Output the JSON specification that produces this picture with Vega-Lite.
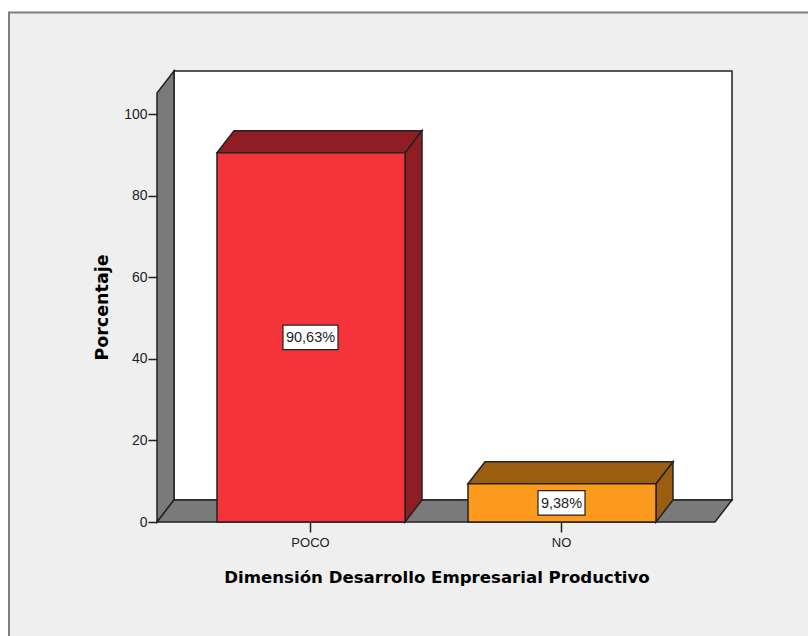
{
"$schema":"https://vega.github.io/schema/vega-lite/v6.json",
"width":575,"height":451,
"autosize":"none",
"padding":{"left":157,"top":71,"right":76,"bottom":114},
"background":"#ffffff",
"view":{"stroke":null},
"datasets":{"barras":[
{"categoria":"POCO","porcentaje":90.63,"orden":0},
{"categoria":"NO","porcentaje":9.38,"orden":1}
]},
"config":{"font":"Liberation Sans"},
"layer":[
{"data":{"values":[{"marco":"ventana"}]},
 "mark":{"type":"rect","fill":"#EFEFEF","stroke":"#808080","strokeWidth":2},
 "encoding":{
  "x":{"datum":-148,"type":"quantitative","scale":{"domain":[0,575],"nice":false,"zero":false},
   "axis":{"title":"Dimensión Desarrollo Empresarial Productivo","grid":false,"domain":false,"zindex":1,"values":[153,404],
    "labelExpr":"datum.value < 300 ? 'POCO' : 'NO'","labelFontSize":13,"labelColor":"#222222","labelPadding":4,"labelFlush":false,
    "tickSize":10,"tickColor":"#222222","tickWidth":1.5,
    "titleFontSize":16.6,"titleFont":"DejaVu Sans","titleFontWeight":"bold","titleColor":"#000000","titleX":279.5,"titleY":55,"titleBaseline":"middle","titleAlign":"center"}},
  "x2":{"datum":720},
  "y":{"datum":125,"type":"quantitative","scale":{"domain":[0,110.67],"nice":false,"zero":false},
   "axis":{"title":"Porcentaje","grid":false,"domain":false,"zindex":1,"values":[0,20,40,60,80,100],
    "labelFontSize":14,"labelColor":"#222222","labelPadding":1,
    "tickSize":9,"tickColor":"#222222","tickWidth":1.5,
    "titleFontSize":17.5,"titleFont":"DejaVu Sans","titleFontWeight":"bold","titleColor":"#000000","titleX":-55,"titleY":236,"titleBaseline":"middle","titleAlign":"center","titleAngle":-90}},
  "y2":{"datum":-40}
 }},
{"data":{"values":[{"marco":"fondo"}]},
 "mark":{"type":"rect","fill":"#ffffff","stroke":"#222222","strokeWidth":1.5},
 "encoding":{"x":{"datum":17,"type":"quantitative"},"x2":{"datum":575},"y":{"datum":5.4,"type":"quantitative"},"y2":{"datum":110.67}}},
{"data":{"values":[{"marco":"izquierda"}]},
 "transform":[
  {"calculate":"[0,17]","as":"vx"},{"calculate":"[0,5.4]","as":"vy2"},{"calculate":"[105.27,110.67]","as":"vy"},
  {"flatten":["vx","vy","vy2"]}],
 "mark":{"type":"area","orient":"vertical","fill":"#7A7A7A","stroke":"#222222","strokeWidth":1.5},
 "encoding":{"x":{"field":"vx","type":"quantitative"},"y":{"field":"vy","type":"quantitative"},"y2":{"field":"vy2"}}},
{"data":{"values":[{"marco":"piso"}]},
 "transform":[
  {"calculate":"[0,17,558,575]","as":"vx"},{"calculate":"[0,5.4,5.4,5.4]","as":"vy"},{"calculate":"[0,0,0,5.4]","as":"vy2"},
  {"flatten":["vx","vy","vy2"]}],
 "mark":{"type":"area","orient":"vertical","fill":"#7A7A7A","stroke":"#222222","strokeWidth":1.5},
 "encoding":{"x":{"field":"vx","type":"quantitative"},"y":{"field":"vy","type":"quantitative"},"y2":{"field":"vy2"}}},
{"data":{"name":"barras"},
 "transform":[
  {"calculate":"154+251*datum.orden","as":"c"},
  {"calculate":"[datum.c+94,datum.c+111]","as":"vx"},
  {"calculate":"[datum.porcentaje,datum.porcentaje+5.4]","as":"vy"},
  {"calculate":"[0,5.4]","as":"vy2"},
  {"flatten":["vx","vy","vy2"]},
  {"calculate":"datum.categoria+' oscuro'","as":"tono"}],
 "mark":{"type":"area","orient":"vertical","stroke":"#222222","strokeWidth":1.5},
 "encoding":{"x":{"field":"vx","type":"quantitative"},"y":{"field":"vy","type":"quantitative"},"y2":{"field":"vy2"},"detail":{"field":"categoria"},
  "color":{"field":"tono","type":"nominal","legend":null,"scale":{"domain":["POCO","NO","POCO oscuro","NO oscuro"],"range":["#F4333B","#FB9A1C","#8E1D24","#9B5E10"]}}}},
{"data":{"name":"barras"},
 "transform":[
  {"calculate":"154+251*datum.orden","as":"c"},
  {"calculate":"[datum.c-94,datum.c-77,datum.c+94,datum.c+111]","as":"vx"},
  {"calculate":"[datum.porcentaje,datum.porcentaje+5.4,datum.porcentaje+5.4,datum.porcentaje+5.4]","as":"vy"},
  {"calculate":"[datum.porcentaje,datum.porcentaje,datum.porcentaje,datum.porcentaje+5.4]","as":"vy2"},
  {"flatten":["vx","vy","vy2"]},
  {"calculate":"datum.categoria+' oscuro'","as":"tono"}],
 "mark":{"type":"area","orient":"vertical","stroke":"#222222","strokeWidth":1.5},
 "encoding":{"x":{"field":"vx","type":"quantitative"},"y":{"field":"vy","type":"quantitative"},"y2":{"field":"vy2"},"detail":{"field":"categoria"},
  "color":{"field":"tono","type":"nominal"}}},
{"data":{"name":"barras"},
 "transform":[
  {"calculate":"154+251*datum.orden-94","as":"x0"},
  {"calculate":"154+251*datum.orden+94","as":"x1"}],
 "mark":{"type":"rect","stroke":"#222222","strokeWidth":1.5},
 "encoding":{"x":{"field":"x0","type":"quantitative"},"x2":{"field":"x1"},"y":{"field":"porcentaje","type":"quantitative"},"y2":{"datum":0},
  "color":{"field":"categoria","type":"nominal"}}},
{"data":{"name":"barras"},
 "transform":[
  {"calculate":"replace(format(datum.porcentaje,'.2f'),'.',',')+'%'","as":"etiqueta"},
  {"calculate":"153.5+251*datum.orden-(length(datum.etiqueta)*4+3.5)","as":"x0"},
  {"calculate":"153.5+251*datum.orden+(length(datum.etiqueta)*4+3.5)","as":"x1"},
  {"calculate":"datum.porcentaje/2+3","as":"y0"},
  {"calculate":"datum.porcentaje/2-3","as":"y1"}],
 "mark":{"type":"rect","fill":"#ffffff","stroke":"#222222","strokeWidth":1.2},
 "encoding":{"x":{"field":"x0","type":"quantitative"},"x2":{"field":"x1"},"y":{"field":"y0","type":"quantitative"},"y2":{"field":"y1"}}},
{"data":{"name":"barras"},
 "transform":[
  {"calculate":"replace(format(datum.porcentaje,'.2f'),'.',',')+'%'","as":"etiqueta"},
  {"calculate":"153.5+251*datum.orden","as":"cx"},
  {"calculate":"datum.porcentaje/2","as":"cy"}],
 "mark":{"type":"text","fontSize":14.5,"color":"#222222","baseline":"middle","align":"center","dy":1},
 "encoding":{"x":{"field":"cx","type":"quantitative"},"y":{"field":"cy","type":"quantitative"},"text":{"field":"etiqueta"}}}
]
}
